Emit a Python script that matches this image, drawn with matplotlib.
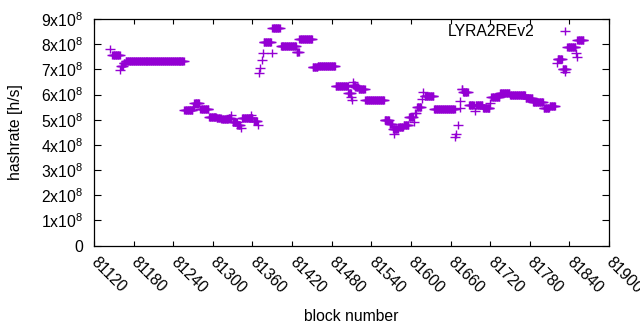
import numpy as np
import matplotlib
matplotlib.use("Agg")
import matplotlib.pyplot as plt
from matplotlib.path import Path
from matplotlib.transforms import ScaledTranslation

VIOLET = "#9400D3"

# runs of consecutive blocks sharing one hashrate estimate (x1e8 h/s)
run_start = [81148, 81161, 81165, 81168, 81257, 81270, 81272, 81281, 81294, 81306,
             81313, 81324, 81330, 81337, 81344, 81362, 81377, 81390, 81403, 81427,
             81431, 81451, 81459, 81486, 81505, 81513, 81516, 81521, 81531, 81560,
             81568, 81573, 81581, 81589, 81597, 81609, 81621, 81635, 81677, 81679,
             81688, 81698, 81709, 81722, 81735, 81750, 81774, 81785, 81801, 81810,
             81822, 81830, 81837, 81852]
run_end = [81159, 81164, 81167, 81256, 81269, 81271, 81279, 81293, 81305, 81312,
           81323, 81327, 81336, 81341, 81360, 81367, 81388, 81401, 81426, 81430,
           81450, 81458, 81485, 81504, 81509, 81515, 81520, 81530, 81559, 81567,
           81572, 81580, 81588, 81596, 81603, 81615, 81634, 81666, 81678, 81686,
           81695, 81708, 81719, 81734, 81749, 81773, 81784, 81800, 81809, 81818,
           81829, 81835, 81849, 81861]
run_rate = [7.58, 7.12, 7.24, 7.32, 5.40, 5.50, 5.68, 5.42, 5.12, 5.07,
            5.03, 5.05, 4.90, 4.80, 5.06, 4.93, 8.10, 8.63, 7.94, 7.68,
            8.19, 7.10, 7.14, 6.35, 6.05, 6.38, 6.30, 6.20, 5.80, 4.97,
            4.82, 4.62, 4.72, 4.80, 5.10, 5.50, 5.93, 5.41, 6.20, 6.08,
            5.60, 5.58, 5.45, 5.90, 6.07, 6.00, 5.87, 5.72, 5.45, 5.55,
            7.40, 7.02, 7.90, 8.15]

# isolated blocks
single_block = [81144, 81160, 81327, 81343, 81358, 81368, 81370, 81372, 81374, 81376,
                81389, 81509, 81510, 81512, 81575, 81604, 81606, 81608, 81617, 81619,
                81667, 81668, 81671, 81674, 81675, 81697, 81720, 81821, 81833, 81850,
                81851]
single_rate = [7.80, 6.98, 5.20, 4.68, 5.20, 4.78, 6.84, 7.04, 7.37, 7.64,
               7.66, 5.91, 5.78, 6.48, 4.45, 4.91, 5.26, 5.27, 5.82, 6.08,
               4.31, 4.45, 4.80, 5.48, 5.75, 5.35, 5.67, 7.24, 6.90, 7.66,
               7.48]

y_ticks = list(range(0, 10))
x_ticks = list(range(81120, 81901, 60))

blocks = list(single_block)
rates = list(single_rate)
for s, e, r in zip(run_start, run_end, run_rate):
    for b in range(s, e + 1):
        blocks.append(b)
        rates.append(r)
blocks = np.array(blocks)
rates = np.array(rates) * 1e8

# gnuplot-like plus: a bit wider than tall
plus = Path([(-1, 0), (1, 0), (0, -0.78), (0, 0.78)],
            [Path.MOVETO, Path.LINETO, Path.MOVETO, Path.LINETO])

plt.rcParams["font.family"] = ["Liberation Sans", "DejaVu Sans"]
plt.rcParams["mathtext.fontset"] = "custom"
plt.rcParams["mathtext.rm"] = "Liberation Sans"
plt.rcParams["font.size"] = 11.3

fig = plt.figure(figsize=(6.4, 3.3), dpi=100)
ax = fig.add_axes([94 / 640, 1 - 245.5 / 330, (609 - 94) / 640, (245.5 - 19) / 330])
ax.plot(blocks, rates, linestyle="none", marker=plus, markersize=7.0,
        markeredgewidth=1.0, color=VIOLET, label="LYRA2REv2")

ax.set_xlim(81120, 81900)
ax.set_ylim(0, 9e8)
ax.set_yticks([v * 1e8 for v in y_ticks])
ax.set_yticklabels(["0"] + [r"$\mathregular{%dx10^{8}}$" % v for v in y_ticks[1:]])
ax.set_xticks(x_ticks)
ax.set_xticklabels([str(v) for v in x_ticks], rotation=-45, ha="left", va="center",
                   rotation_mode="anchor")
shift = ScaledTranslation(0.05, 0, fig.dpi_scale_trans)
for lab in ax.get_xticklabels():
    lab.set_transform(lab.get_transform() + shift)
ax.tick_params(axis="y", direction="in", length=5, width=0.8, right=True, pad=8)
ax.tick_params(axis="x", direction="in", length=3.4, width=0.8, top=True, pad=10.5)
for sp in ax.spines.values():
    sp.set_linewidth(0.9)

ax.set_xlabel("block number", labelpad=9)
ax.set_ylabel("hashrate [h/s]", labelpad=13)

ax.legend(loc="center right", frameon=False, markerfirst=False, numpoints=1,
          handlelength=2.4, handletextpad=0.75, borderaxespad=0, borderpad=0,
          bbox_to_anchor=(584 / 640, 298.3 / 330), bbox_transform=fig.transFigure)

fig.savefig("out.png", dpi=100)
